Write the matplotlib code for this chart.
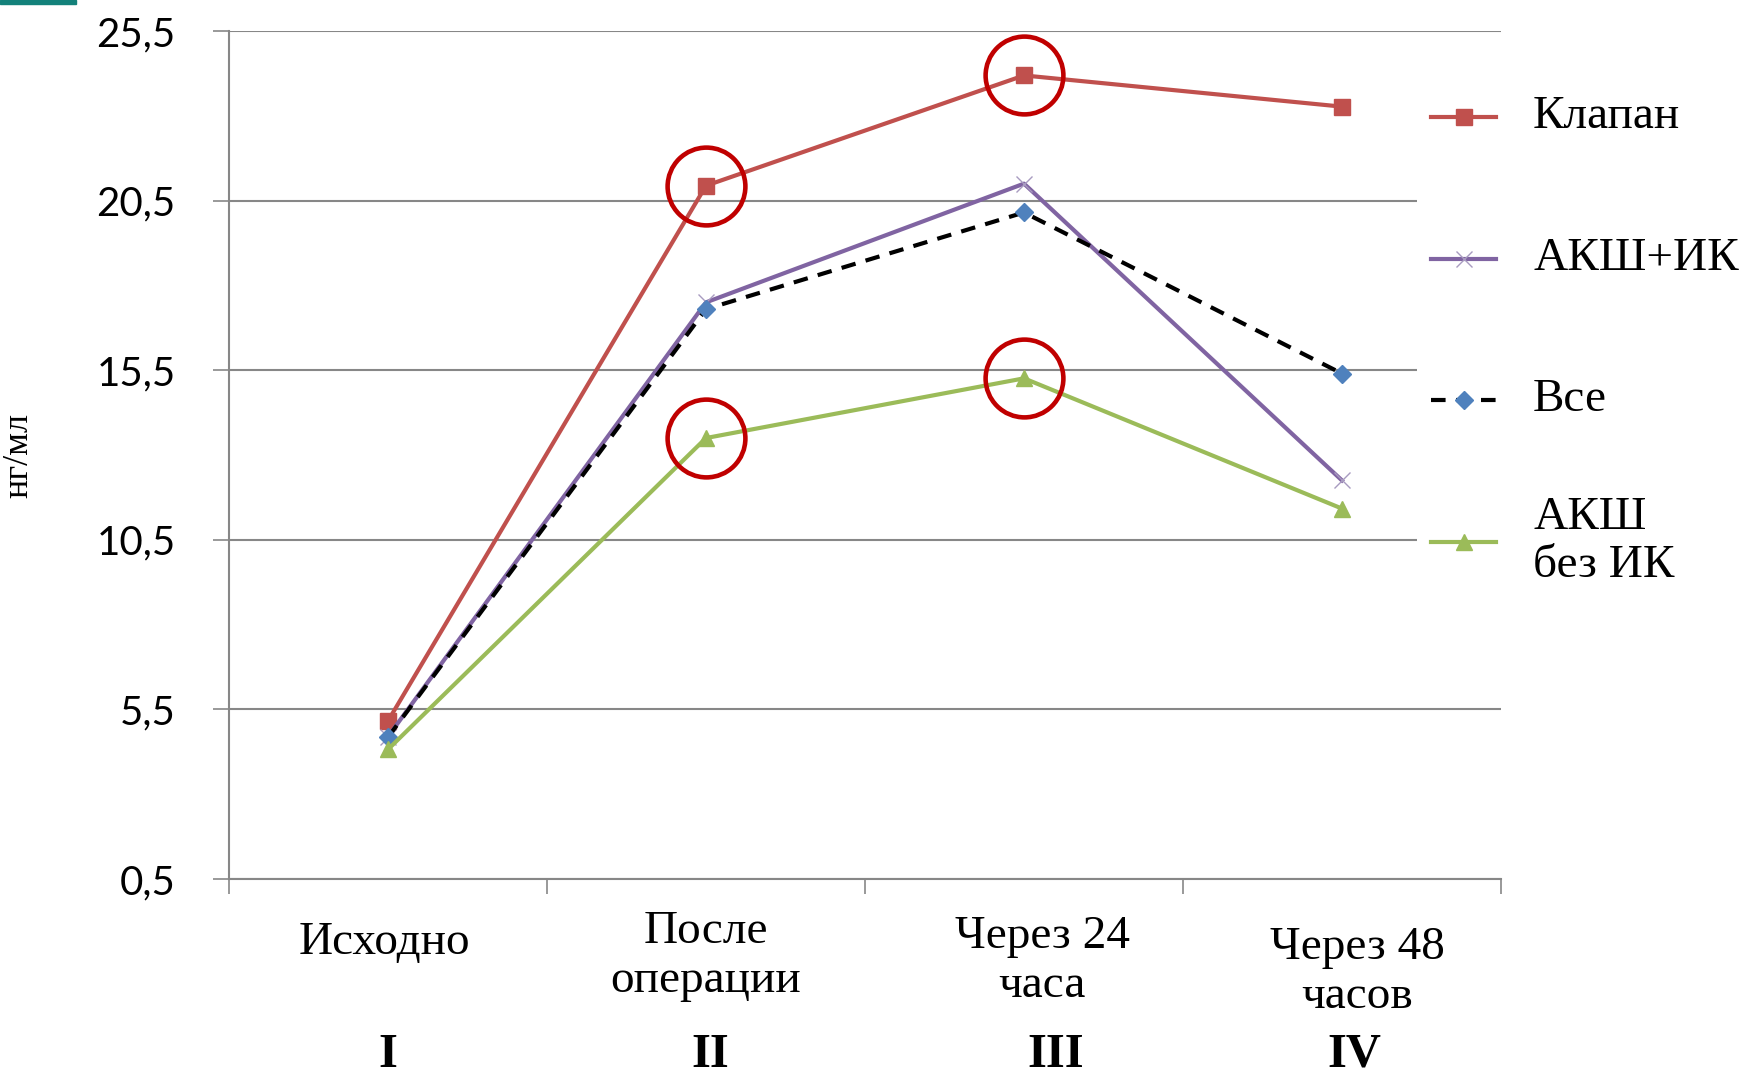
import matplotlib
matplotlib.use('Agg')
import matplotlib.pyplot as plt
from matplotlib.transforms import blended_transform_factory
from matplotlib.patches import Rectangle

# data
categories = ['Исходно', 'После\nоперации', 'Через 24\nчаса', 'Через 48\nчасов']
stages = ['I', 'II', 'III', 'IV']
klapan = [5.16, 20.94, 24.19, 23.27]
aksh_ik = [4.70, 17.50, 21.00, 12.25]
vse = [4.68, 17.30, 20.15, 15.40]
aksh_bez_ik = [4.32, 13.50, 15.26, 11.42]
series_names = ['Клапан', 'АКШ+ИК', 'Все', 'АКШ\nбез ИК']
yticks = [0.5, 5.5, 10.5, 15.5, 20.5, 25.5]
# points circled in red: (series index, category index)
highlight = [(0, 1), (0, 2), (3, 1), (3, 2)]

series = [klapan, aksh_ik, vse, aksh_bez_ik]
styles = [
    dict(color='#C0504D', ls='-', lw=3, marker='s', ms=11, mfc='#C0504D', mec='#C0504D'),
    dict(color='#8064A2', ls='-', lw=3, marker='x', ms=12, mew=1.0, mec='#A89BC0'),
    dict(color='black', ls=(0, (3.5, 2.5)), lw=3, marker='D', ms=9, mfc='#4F81BD', mec='#4F81BD'),
    dict(color='#9BBB59', ls='-', lw=3, marker='^', ms=12, mfc='#9BBB59', mec='#9BBB59'),
]

serif = 'Liberation Serif'
grey = '#878787'

fig = plt.figure(figsize=(17.44, 10.83), dpi=100)
ax = fig.add_axes([229 / 1744, 1 - 879 / 1083, 1272 / 1744, 848 / 1083])

x = list(range(len(categories)))
for vals, st in zip(series, styles):
    ax.plot(x, vals, zorder=3, **st)

for si, ci in highlight:
    ax.plot(x[ci], series[si][ci], marker='o', ms=56, mfc='none',
            mec='#C00000', mew=3.3, zorder=4)

ax.set_xlim(-0.5, 3.5)
ax.set_ylim(0.5, 25.5)
ax.set_yticks(yticks)
ax.set_yticklabels([f'{v:.1f}'.replace('.', ',') for v in yticks],
                   fontfamily='Lato', fontsize=29)
ax.tick_params(axis='y', length=11.5, width=1.2, color=grey, pad=27)
ax.set_xticks([-0.5, 0.5, 1.5, 2.5, 3.5])
ax.set_xticklabels([])
ax.tick_params(axis='x', length=11, width=1.2, color=grey)
ax.yaxis.grid(True, color=grey, lw=1.5)
ax.set_axisbelow(True)
for s in ['top', 'right']:
    ax.spines[s].set_visible(False)
for s in ['left', 'bottom']:
    ax.spines[s].set_color(grey)
    ax.spines[s].set_linewidth(1.5)

ax.set_ylabel('нг/мл', fontfamily=serif, fontsize=26)
ax.yaxis.set_label_coords(-0.152, 0.5)

# category labels and stage numerals under the axis
tr = blended_transform_factory(ax.transData, ax.transAxes)
label_dx = [-0.01, 0.0, 0.057, 0.047]
label_y = [-0.0755, -0.091, -0.097, -0.110]
num_dx = [0.0, 0.013, 0.10, 0.04]
for i, (cat, st) in enumerate(zip(categories, stages)):
    ax.text(x[i] + label_dx[i], label_y[i], cat, transform=tr, ha='center',
            va='center', fontfamily=serif, fontsize=34, linespacing=1.2)
    ax.text(x[i] + num_dx[i], -0.207, st, transform=tr, ha='center',
            va='center', fontfamily=serif, fontsize=35, fontweight='bold')

# legend on a white panel that hides the grid behind it
lax = fig.add_axes([1417 / 1744, 1 - 600 / 1083, 327 / 1744, 560 / 1083])
lax.set_xlim(0, 1)
lax.set_ylim(0, 1)
lax.axis('off')
lax.add_patch(Rectangle((0, 0), 1, 1, color='white', zorder=0))
entry_y = [0.8625, 0.609, 0.357, 0.104]
for name, st, ey in zip(series_names, styles, entry_y):
    lax.plot([0.043, 0.242], [ey, ey], **{k: v for k, v in st.items() if k != 'marker'})
    lax.plot([0.1425], [ey], ls='none', **{k: v for k, v in st.items() if k not in ('ls', 'lw', 'color')})
    lax.text(0.355, ey, name, ha='left', va='center', fontfamily=serif,
             fontsize=34, linespacing=1.15)

fig.patches.append(Rectangle((0, 1 - 4 / 1083), 76 / 1744, 4 / 1083,
                             transform=fig.transFigure, color='#13817A'))

fig.savefig('out.png', dpi=100)
